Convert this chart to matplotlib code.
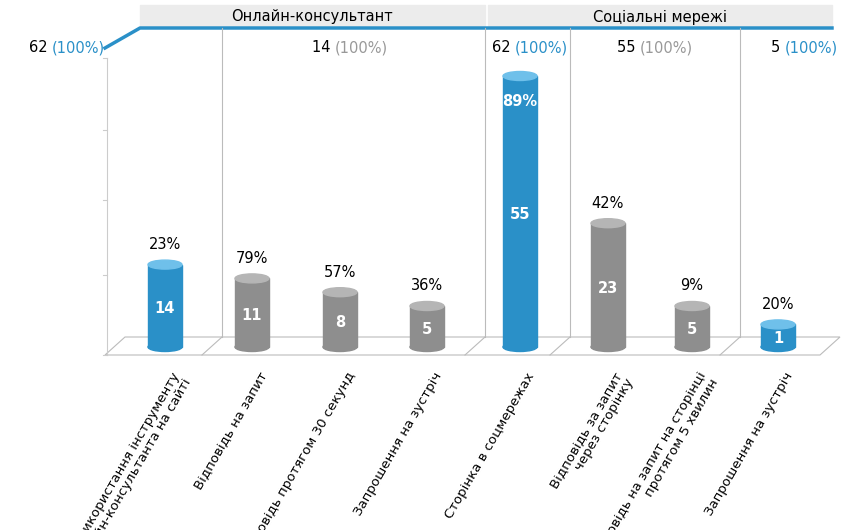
import matplotlib.pyplot as plt
from matplotlib.patches import Rectangle, Ellipse, Polygon

categories = ["Використання інструменту\nонлайн-консультанта на сайті", "Відповідь на запит",
              "Відповідь протягом 30 секунд", "Запрошення на зустріч",
              "Сторінка в соцмережах", "Відповідь за запит\nчерез сторінку",
              "Відповідь на запит на сторінці\nпротягом 5 хвилин", "Запрошення на зустріч"]
counts = [14, 11, 8, 5, 55, 23, 5, 1]
percents = [23, 79, 57, 36, 89, 42, 9, 20]
blue_bar = [True, False, False, False, True, False, False, True]
totals = [(62, True), (14, False), (62, True), (55, False), (5, True)]
groups = ["Онлайн-консультант", "Соціальні мережі"]

BLUE = "#2a90c8"
GRAY = "#8e8e8e"

fig = plt.figure(figsize=(8.59, 5.30), dpi=100)
ax = fig.add_axes([0, 0, 1, 1])
ax.set_xlim(0, 859)
ax.set_ylim(530, 0)
ax.axis("off")

# header bands
ax.add_patch(Rectangle((140, 5), 345, 22, color="#ececec", zorder=0))
ax.add_patch(Rectangle((488, 5), 344, 22, color="#ececec", zorder=0))
ax.text(312, 17, groups[0], ha="center", va="center", fontsize=10.5)
ax.text(660, 17, groups[1], ha="center", va="center", fontsize=10.5)
ax.plot([105, 140, 832], [48, 28, 28], color=BLUE, lw=2.5)

# left axis
ax.plot([107, 107], [58, 355], color="#cccccc", lw=0.8)
for y in [58, 130, 200, 275, 355]:
    ax.plot([103, 107], [y, y], color="#cccccc", lw=0.8)

# floor
ax.add_patch(Polygon([[105, 355], [820, 355], [840, 337], [125, 337]],
                     closed=True, fill=False, ec="#bbbbbb", lw=0.8))
for x in [222, 485, 570, 740]:
    ax.plot([x, x], [28, 337], color="#bbbbbb", lw=0.8)
    ax.plot([x - 20, x], [355, 337], color="#bbbbbb", lw=0.8)

# totals
tx = [52, 335, 515, 640, 785]
for x, (n, b) in zip(tx, totals):
    c = BLUE if b else "#999999"
    ax.text(x, 48, f"{n} ", ha="right", va="center", fontsize=10.5)
    ax.text(x, 48, "(100%)", ha="left", va="center", fontsize=10.5, color=c)

# cylinders
xs = [165, 252, 340, 427, 520, 608, 692, 778]
base = 347
scale = 4.6
offset = 18
w = 34
for x, n, p, b, cat in zip(xs, counts, percents, blue_bar, categories):
    col = BLUE if b else GRAY
    top = base - n * scale - offset
    ax.add_patch(Ellipse((x, base), w, 9, color=col, zorder=2))
    ax.add_patch(Rectangle((x - w / 2, top), w, base - top, color=col, zorder=2))
    ax.add_patch(Ellipse((x, top), w, 9, color="#6fc0ea" if b else "#b5b5b5", zorder=3))
    ax.text(x, (top + base) / 2 + 3, str(n), ha="center", va="center", color="white",
            fontsize=10.5, fontweight="bold", zorder=4)
    if n > 40:
        ax.text(x, top + 25, f"{p}%", ha="center", va="center", fontsize=10.5,
                color="white", fontweight="bold", zorder=4)
    else:
        ax.text(x, top - 20, f"{p}%", ha="center", va="center", fontsize=10.5, zorder=4)
    ax.text(x + 6, 370, cat, rotation=60, ha="right", va="top",
            rotation_mode="anchor", fontsize=9.5, linespacing=1.0)

fig.savefig("out.png", dpi=100)
